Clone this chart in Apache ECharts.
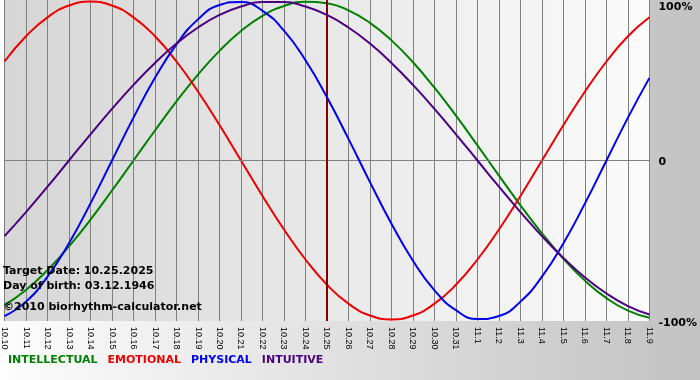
<!DOCTYPE html>
<html>
<head>
<meta charset="utf-8">
<script src="https://cdn.jsdelivr.net/npm/echarts@6/dist/echarts.min.js"></script>
<style>html,body{margin:0;padding:0;}#c{width:700px;height:380px;}</style>
</head>
<body>
<div id="c"></div>
<script>
var days = ['10.10','10.11','10.12','10.13','10.14','10.15','10.16','10.17','10.18','10.19','10.20','10.21','10.22','10.23','10.24','10.25','10.26','10.27','10.28','10.29','10.30','10.31','11.1','11.2','11.3','11.4','11.5','11.6','11.7','11.8','11.9'];
var intellectual = [-91.0,-81.5,-69.0,-54.1,-37.2,-18.9,0,18.9,37.2,54.1,69.0,81.5,91.0,97.2,99.9,99.0,94.5,86.6,75.6,61.8,45.8,28.2,9.5,-9.5,-28.2,-45.8,-61.8,-75.6,-86.6,-94.5,-99.0];
var emotional = [62.3,78.2,90.1,97.5,100,97.5,90.1,78.2,62.3,43.4,22.3,0,-22.3,-43.4,-62.3,-78.2,-90.1,-97.5,-100,-97.5,-90.1,-78.2,-62.3,-43.4,-22.3,0,22.3,43.4,62.3,78.2,90.1];
var physical = [-97.9,-88.8,-73.1,-52.0,-27.0,0,27.0,52.0,73.1,88.8,97.9,99.8,94.2,81.7,63.1,39.8,13.6,-13.6,-39.8,-63.1,-81.7,-94.2,-99.8,-97.9,-88.8,-73.1,-52.0,-27.0,0,27.0,52.0];
var intuitive = [-47.6,-32.5,-16.5,0,16.5,32.5,47.6,61.4,73.6,83.7,91.6,96.9,99.7,99.7,96.9,91.6,83.7,73.6,61.4,47.6,32.5,16.5,0,-16.5,-32.5,-47.6,-61.4,-73.6,-83.7,-91.6,-96.9];
var seriesNames = ['INTELLECTUAL','EMOTIONAL','PHYSICAL','INTUITIVE'];
var seriesColors = ['#008000','#ee0000','#0000ee','#4b0082'];
var targetDay = '10.25';
var yTickValues = [-100, 0, 100];
var yTickLabels = ['-100%', '0', '100%'];
var infoLines = ['Target Date: 10.25.2025', 'Day of birth: 03.12.1946', '\u00a92010 biorhythm-calculator.net'];

var chart = echarts.init(document.getElementById('c'), null, {renderer:'canvas'});
var dataSets = [intellectual, emotional, physical, intuitive];
var series = dataSets.map(function(d, i){
  return {
    name: seriesNames[i], type:'line', data:d, smooth:0.5, symbol:'none',
    lineStyle:{color:seriesColors[i], width:2}, itemStyle:{color:seriesColors[i]},
    animation:false, z: 3 + i
  };
});
series.unshift({
  name:'_marks', type:'line', data:[], symbol:'none', animation:false, z:2, silent:true,
  markLine:{
    silent:true, symbol:['none','none'], label:{show:false}, animation:false,
    data:[
      {yAxis:0, lineStyle:{color:'#808080', width:1, type:'solid'}},
      {xAxis:targetDay, lineStyle:{color:'#800000', width:2, type:'solid'}}
    ]
  }
});
var option = {
  animation:false,
  backgroundColor:{type:'linear', x:0, y:0, x2:1, y2:0, colorStops:[{offset:0,color:'#fdfdfd'},{offset:1,color:'#c2c2c2'}]},
  grid:{left:0, top:0, width:650, height:321, show:true, borderWidth:0,
    backgroundColor:{type:'linear', x:0, y:0, x2:1, y2:0, colorStops:[{offset:0,color:'#d6d6d6'},{offset:1,color:'#fbfbfb'}]}},
  legend:{
    left:2, top:355, padding:0, itemWidth:0, itemHeight:0, itemGap:4, selectedMode:false,
    data: seriesNames.map(function(n,i){return {name:n, textStyle:{color:seriesColors[i]}};}),
    textStyle:{fontFamily:'DejaVu Sans', fontWeight:'bold', fontSize:11}
  },
  xAxis:{
    type:'category', data:days, boundaryGap:false,
    axisLine:{show:true, lineStyle:{color:'#808080', width:1}},
    axisTick:{show:true, length:5, lineStyle:{color:'#808080'}},
    axisLabel:{rotate:-90, interval:0, margin:6, color:'#000', fontFamily:'Liberation Sans', fontSize:9},
    splitLine:{show:true, lineStyle:{color:'#808080', width:1}}
  },
  yAxis:{
    type:'value', min:-101, max:101, position:'right',
    axisLine:{show:false}, axisTick:{show:false}, splitLine:{show:false},
    axisLabel:{
      customValues: yTickValues, margin:9, color:'#000',
      fontFamily:'DejaVu Sans', fontWeight:'bold', fontSize:11,
      formatter:function(v){
        var idx = yTickValues.indexOf(v);
        var key = ['b','m','t'][idx];
        return '{' + key + '|' + yTickLabels[idx] + '}';
      },
      rich:{
        t:{padding:[11,0,0,0], fontFamily:'DejaVu Sans', fontWeight:'bold', fontSize:11, color:'#000'},
        m:{padding:[3,0,0,0], fontFamily:'DejaVu Sans', fontWeight:'bold', fontSize:11, color:'#000'},
        b:{padding:[8,0,0,0], fontFamily:'DejaVu Sans', fontWeight:'bold', fontSize:11, color:'#000'}
      }
    }
  },
  graphic: infoLines.map(function(t, i){
    return {type:'text', left:3, top:[266, 281, 302][i], z:100, silent:true,
      style:{text:t, fill:'#000', font:'bold 11px "DejaVu Sans"'}};
  }),
  series: series
};
chart.setOption(option);
</script>
</body>
</html>
